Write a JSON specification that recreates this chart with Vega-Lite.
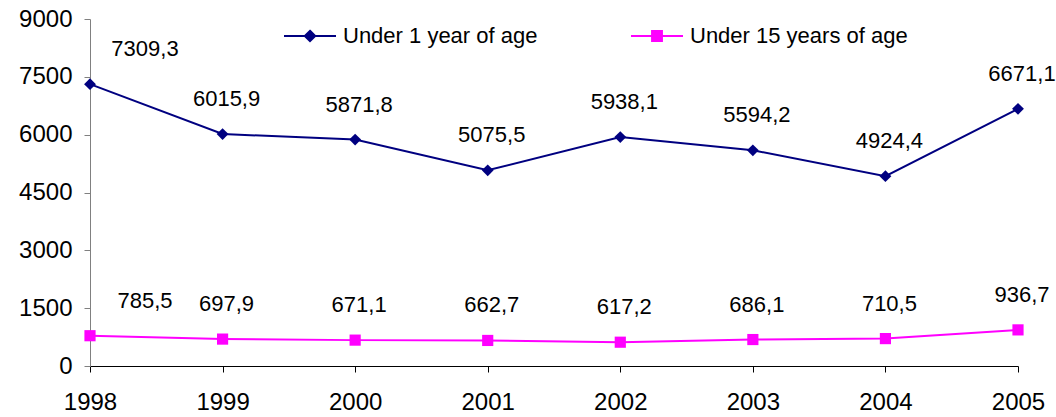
{
  "$schema": "https://vega.github.io/schema/vega-lite/v6.json",
  "width": 928,
  "height": 347,
  "autosize": "none",
  "padding": {"left": 90, "top": 19, "right": 38, "bottom": 51},
  "background": "white",
  "config": {
    "view": {"stroke": null},
    "font": "Liberation Sans",
    "locale": {"number": {"decimal": ",", "thousands": "", "grouping": [3], "currency": ["", ""]}}
  },
  "data": {
    "values": [
      {"year": 1998, "series": "Under 1 year of age", "value": 7309.3},
      {"year": 1999, "series": "Under 1 year of age", "value": 6015.9},
      {"year": 2000, "series": "Under 1 year of age", "value": 5871.8},
      {"year": 2001, "series": "Under 1 year of age", "value": 5075.5},
      {"year": 2002, "series": "Under 1 year of age", "value": 5938.1},
      {"year": 2003, "series": "Under 1 year of age", "value": 5594.2},
      {"year": 2004, "series": "Under 1 year of age", "value": 4924.4},
      {"year": 2005, "series": "Under 1 year of age", "value": 6671.1},
      {"year": 1998, "series": "Under 15 years of age", "value": 785.5},
      {"year": 1999, "series": "Under 15 years of age", "value": 697.9},
      {"year": 2000, "series": "Under 15 years of age", "value": 671.1},
      {"year": 2001, "series": "Under 15 years of age", "value": 662.7},
      {"year": 2002, "series": "Under 15 years of age", "value": 617.2},
      {"year": 2003, "series": "Under 15 years of age", "value": 686.1},
      {"year": 2004, "series": "Under 15 years of age", "value": 710.5},
      {"year": 2005, "series": "Under 15 years of age", "value": 936.7}
    ]
  },
  "encoding": {
    "x": {
      "field": "year",
      "type": "ordinal",
      "scale": {"type": "point", "padding": 0},
      "axis": {
        "title": null,
        "labelAngle": 0,
        "labelFontSize": 24,
        "labelFont": "Liberation Sans",
        "labelColor": "black",
        "labelPadding": 18,
        "tickSize": 6,
        "tickColor": "black",
        "domainColor": "black",
        "grid": false
      }
    },
    "y": {
      "field": "value",
      "type": "quantitative",
      "scale": {"domain": [0, 9000], "nice": false},
      "axis": {
        "title": null,
        "values": [0, 1500, 3000, 4500, 6000, 7500, 9000],
        "format": "d",
        "labelFontSize": 24,
        "labelFont": "Liberation Sans",
        "labelColor": "black",
        "labelPadding": 12,
        "tickSize": 6,
        "tickColor": "#808080",
        "domainColor": "#808080",
        "grid": false
      }
    }
  },
  "layer": [
    {
      "mark": {"type": "line", "strokeWidth": 2},
      "encoding": {
        "color": {
          "field": "series",
          "type": "nominal",
          "scale": {"domain": ["Under 1 year of age", "Under 15 years of age"], "range": ["#000080", "#FF00FF"]},
          "legend": {
            "orient": "none",
            "legendX": 193,
            "legendY": -10,
            "direction": "horizontal",
            "title": null,
            "labelFontSize": 22,
            "labelFont": "Liberation Sans",
            "labelColor": "black",
            "labelLimit": 0,
            "symbolSize": 2704,
            "labelOffset": 6,
            "columnPadding": 89,
            "symbolStrokeWidth": 2,
            "encode": {
              "symbols": {
                "update": {
                  "shape": {"signal": "datum.value === 'Under 1 year of age' ? 'M-1,0L1,0M0,-0.2L0.2,0L0,0.2L-0.2,0Z' : 'M-1,0L1,0M-0.19,-0.19L0.19,-0.19L0.19,0.19L-0.19,0.19Z'"},
                  "fill": {"scale": "color", "field": "value"},
                  "stroke": {"scale": "color", "field": "value"},
                  "fillOpacity": {"value": 1},
                  "opacity": {"value": 1},
                  "strokeWidth": {"value": 2}
                }
              }
            }
          }
        }
      }
    },
    {
      "transform": [{"filter": "datum.series == 'Under 1 year of age'"}],
      "mark": {"type": "point", "filled": true, "opacity": 1, "size": 140, "shape": "diamond", "color": "#000080"}
    },
    {
      "transform": [{"filter": "datum.series == 'Under 15 years of age'"}],
      "mark": {"type": "point", "filled": true, "opacity": 1, "size": 125, "shape": "square", "color": "#FF00FF"}
    },
    {
      "transform": [{"filter": "datum.year != 1998"}],
      "mark": {"type": "text", "dy": -35, "dx": 4, "fontSize": 22, "font": "Liberation Sans", "color": "black"},
      "encoding": {"text": {"field": "value", "type": "quantitative", "format": ".1f"}}
    },
    {
      "transform": [{"filter": "datum.year == 1998"}],
      "mark": {"type": "text", "dy": -35, "dx": 55, "fontSize": 22, "font": "Liberation Sans", "color": "black"},
      "encoding": {"text": {"field": "value", "type": "quantitative", "format": ".1f"}}
    }
  ]
}
